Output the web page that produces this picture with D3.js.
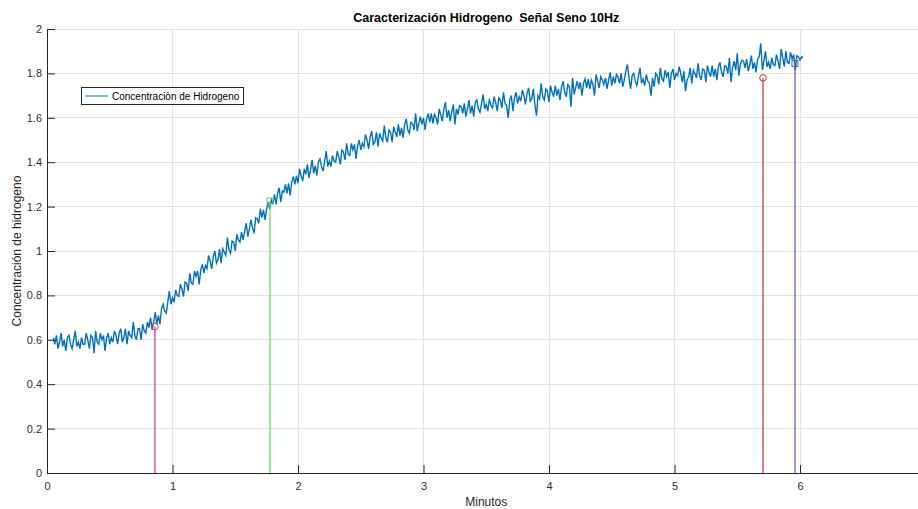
<!DOCTYPE html>
<html>
<head>
<meta charset="utf-8">
<script src="https://cdn.jsdelivr.net/npm/d3@7"></script>
<style>
  html, body { margin: 0; padding: 0; background: #ffffff; }
  svg { display: block; font-family: "Liberation Sans", Arial, Helvetica, sans-serif; }
  .keep-spaces { white-space: pre; }
</style>
</head>
<body>
<svg id="chart" width="918" height="509"></svg>
<script>
// Hydrogen concentration, sampled every 0.0125 min starting at 0.05 min
const sampleStart = 0.05;
const sampleStep = 0.0125;
const concentration = [
  0.61,0.58,0.62,0.56,0.59,0.63,0.57,0.60,0.55,0.61,0.62,0.58,0.56,0.60,0.64,0.57,0.59,0.56,0.61,0.58,
  0.58,0.63,0.60,0.56,0.62,0.61,0.54,0.64,0.59,0.58,0.63,0.60,0.62,0.55,0.61,0.63,0.58,0.61,0.59,0.64,
  0.62,0.58,0.63,0.65,0.59,0.61,0.65,0.58,0.64,0.62,0.61,0.68,0.62,0.60,0.65,0.65,0.60,0.67,0.64,0.63,
  0.68,0.655,0.70,0.645,0.68,0.725,0.67,0.71,0.67,0.74,0.76,0.73,0.72,0.77,0.82,0.76,0.79,0.77,0.825,0.80,
  0.795,0.85,0.83,0.795,0.86,0.855,0.82,0.90,0.855,0.85,0.91,0.885,0.91,0.85,0.915,0.94,0.90,0.935,0.92,0.98,
  0.955,0.92,0.975,1.00,0.945,0.96,1.01,0.945,1.01,0.995,0.98,1.06,1.005,0.99,1.045,1.04,1.00,1.075,1.05,1.04,
  1.085,1.05,1.09,1.125,1.065,1.10,1.14,1.105,1.08,1.15,1.145,1.125,1.19,1.15,1.185,1.14,1.19,1.22,1.19,1.23,
  1.21,1.255,1.21,1.26,1.285,1.22,1.27,1.265,1.30,1.26,1.305,1.25,1.31,1.335,1.30,1.34,1.305,1.37,1.34,1.315,
  1.37,1.345,1.39,1.33,1.365,1.41,1.35,1.385,1.34,1.40,1.415,1.38,1.36,1.405,1.45,1.38,1.405,1.38,1.43,1.405,
  1.40,1.45,1.425,1.39,1.455,1.445,1.41,1.485,1.435,1.43,1.485,1.455,1.48,1.415,1.475,1.50,1.455,1.485,1.47,1.525,
  1.50,1.46,1.515,1.54,1.48,1.49,1.535,1.47,1.53,1.51,1.495,1.565,1.51,1.49,1.545,1.535,1.49,1.56,1.535,1.515,
  1.57,1.52,1.555,1.51,1.57,1.595,1.545,1.53,1.58,1.575,1.545,1.62,1.54,1.575,1.605,1.57,1.60,1.545,1.595,1.62,
  1.58,1.62,1.575,1.615,1.60,1.57,1.64,1.615,1.585,1.64,1.67,1.60,1.635,1.585,1.625,1.66,1.57,1.64,1.615,1.655,
  1.65,1.62,1.665,1.605,1.64,1.68,1.62,1.655,1.605,1.67,1.68,1.64,1.625,1.665,1.705,1.64,1.66,1.63,1.685,1.655,
  1.645,1.695,1.67,1.63,1.69,1.68,1.645,1.715,1.665,1.655,1.60,1.68,1.70,1.63,1.69,1.715,1.665,1.695,1.675,1.725,
  1.70,1.66,1.71,1.735,1.675,1.685,1.73,1.66,1.61,1.70,1.685,1.755,1.695,1.68,1.73,1.72,1.67,1.745,1.715,1.695,
  1.745,1.70,1.73,1.68,1.74,1.765,1.715,1.695,1.75,1.74,1.65,1.78,1.705,1.735,1.765,1.73,1.76,1.70,1.755,1.775,
  1.735,1.775,1.73,1.77,1.75,1.70,1.795,1.765,1.735,1.785,1.77,1.75,1.78,1.73,1.77,1.805,1.745,1.785,1.755,1.795,
  1.785,1.755,1.80,1.74,1.77,1.81,1.84,1.78,1.73,1.79,1.80,1.765,1.745,1.785,1.825,1.755,1.775,1.745,1.795,1.765,
  1.755,1.70,1.78,1.74,1.80,1.79,1.75,1.825,1.775,1.765,1.815,1.785,1.805,1.735,1.80,1.82,1.77,1.80,1.79,1.83,
  1.80,1.76,1.81,1.72,1.77,1.785,1.825,1.755,1.815,1.80,1.78,1.845,1.79,1.77,1.82,1.815,1.76,1.835,1.805,1.785,
  1.835,1.785,1.82,1.77,1.83,1.85,1.805,1.785,1.835,1.83,1.80,1.87,1.76,1.825,1.855,1.815,1.89,1.79,1.84,1.86,
  1.855,1.825,1.865,1.81,1.84,1.88,1.82,1.85,1.805,1.865,1.875,1.935,1.815,1.855,1.90,1.83,1.85,1.82,1.87,1.84,
  1.835,1.885,1.855,1.82,1.91,1.87,1.83,1.90,1.85,1.845,1.895,1.865,1.885,1.815,1.88,1.875,1.86,1.875,1.87
];

// Marked points (stems)
const stemMinutes = [0.86, 1.777, 5.705, 5.96];
const stemValues  = [0.66, 1.225, 1.78, 1.845];
const stemKinds   = ["circle", "square", "circle", "square"];

// Axis ticks
const xTicks = [0, 1, 2, 3, 4, 5, 6];
const xTickLabels = ["0", "1", "2", "3", "4", "5", "6"];
const yTicks = [0, 0.2, 0.4, 0.6, 0.8, 1, 1.2, 1.4, 1.6, 1.8, 2];
const yTickLabels = ["0", "0.2", "0.4", "0.6", "0.8", "1", "1.2", "1.4", "1.6", "1.8", "2"];

const titleText = "Caracterización Hidrogeno  Señal Seno 10Hz";
const xLabelText = "Minutos";
const yLabelText = "Concentración de hidrogeno";
const legendText = "Concentraciòn de Hidrogeno";

// ---- styles ----
const stemColors = ["#cc3a5c", "#5fd35f", "#cc2a2a", "#5b5bb8"];
const lineColor = "#0072bd";
const axisColor = "#262626";
const gridColor = "#e4e4e4";

const svg = d3.select("#chart");
const x = d3.scaleLinear().domain([0, 7]).range([47, 925.5]);
const y = d3.scaleLinear().domain([0, 2]).range([473, 29]);

// grid
const grid = svg.append("g");
grid.selectAll("line.gx").data(xTicks.filter(d => d > 0)).enter().append("line")
  .attr("x1", d => x(d)).attr("x2", d => x(d))
  .attr("y1", y(0)).attr("y2", y(2))
  .attr("stroke", gridColor).attr("stroke-width", 1).attr("shape-rendering", "crispEdges");
grid.selectAll("line.gy").data(yTicks.filter(d => d > 0)).enter().append("line")
  .attr("x1", x(0)).attr("x2", x(7))
  .attr("y1", d => y(d)).attr("y2", d => y(d))
  .attr("stroke", gridColor).attr("stroke-width", 1).attr("shape-rendering", "crispEdges");

// signal
const points = concentration.map((v, i) => [sampleStart + i * sampleStep, v]);
svg.append("path")
  .datum(points)
  .attr("fill", "none")
  .attr("stroke", lineColor)
  .attr("stroke-width", 1.4)
  .attr("stroke-linejoin", "miter")
  .attr("d", d3.line().x(d => x(d[0])).y(d => y(d[1])));

// stems
const stems = svg.append("g");
stemMinutes.forEach((m, i) => {
  stems.append("line")
    .attr("x1", x(m)).attr("x2", x(m))
    .attr("y1", y(0)).attr("y2", y(stemValues[i]))
    .attr("stroke", stemColors[i]).attr("stroke-width", 1.2);
  if (stemKinds[i] === "circle") {
    stems.append("circle")
      .attr("cx", x(m)).attr("cy", y(stemValues[i])).attr("r", 3.3)
      .attr("fill", "none").attr("stroke", stemColors[i]).attr("stroke-width", 1);
  } else {
    stems.append("rect")
      .attr("x", x(m) - 3).attr("y", y(stemValues[i]) - 3)
      .attr("width", 6).attr("height", 6)
      .attr("fill", "none").attr("stroke", stemColors[i]).attr("stroke-width", 1);
  }
});

// axes
const xAxis = d3.axisBottom(x).tickValues(xTicks)
  .tickFormat((d, i) => xTickLabels[i]).tickSizeInner(-8).tickSizeOuter(0).tickPadding(9);
const yAxis = d3.axisLeft(y).tickValues(yTicks)
  .tickFormat((d, i) => yTickLabels[i]).tickSizeInner(-8).tickSizeOuter(0).tickPadding(5);

const gx = svg.append("g").attr("transform", `translate(0,${y(0)})`).call(xAxis);
const gy = svg.append("g").attr("transform", `translate(${x(0)},0)`).call(yAxis);
[gx, gy].forEach(g => {
  g.select(".domain").attr("stroke", axisColor).attr("stroke-width", 1);
  g.selectAll(".tick line").attr("stroke", axisColor).attr("stroke-width", 1);
  g.selectAll(".tick text").attr("fill", "#303030").attr("font-size", 11)
    .attr("font-family", "\"Liberation Sans\", Arial, sans-serif");
});

// title and labels
svg.append("text")
  .attr("class", "keep-spaces")
  .attr("x", (x(0) + x(7)) / 2).attr("y", 22)
  .attr("text-anchor", "middle").attr("font-size", 12.5).attr("font-weight", "bold")
  .attr("fill", "#000").text(titleText);
svg.append("text")
  .attr("x", (x(0) + x(7)) / 2).attr("y", 506)
  .attr("text-anchor", "middle").attr("font-size", 12)
  .attr("fill", "#262626").text(xLabelText);
svg.append("text")
  .attr("transform", `translate(21,${(y(0) + y(2)) / 2}) rotate(-90)`)
  .attr("text-anchor", "middle").attr("font-size", 12)
  .attr("fill", "#262626").text(yLabelText);

// legend
const lg = svg.append("g");
lg.append("rect").attr("x", 81.5).attr("y", 87.5).attr("width", 162).attr("height", 17)
  .attr("fill", "#fff").attr("stroke", axisColor).attr("stroke-width", 1);
lg.append("line").attr("x1", 85).attr("x2", 108).attr("y1", 96).attr("y2", 96)
  .attr("stroke", lineColor).attr("stroke-width", 1);
lg.append("text").attr("x", 112).attr("y", 99.5).attr("font-size", 10)
  .attr("fill", "#000").text(legendText);
</script>
</body>
</html>
